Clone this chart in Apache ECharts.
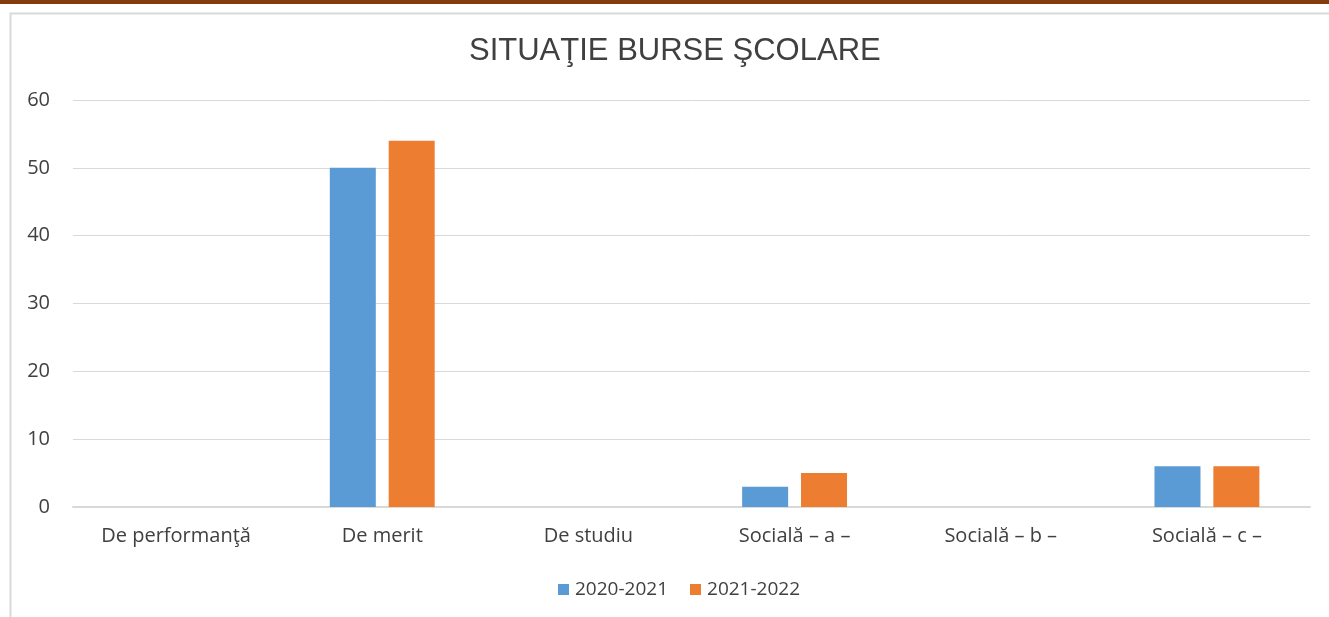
<!DOCTYPE html>
<html>
<head>
<meta charset="utf-8">
<script src="https://cdn.jsdelivr.net/npm/echarts@6/dist/echarts.min.js"></script>
<style>
html,body{margin:0;padding:0;background:#fff;}
#chart{width:1329px;height:617px;}
</style>
</head>
<body>
<div id="chart"></div>
<script>
const categories = ['De performanţă', 'De merit', 'De studiu', 'Socială – a –', 'Socială – b –', 'Socială – c –'];
const seriesNames = ['2020-2021', '2021-2022'];
const values2020 = [0, 50, 0, 3, 0, 6];
const values2021 = [0, 54, 0, 5, 0, 6];
const yTicks = { min: 0, max: 60, interval: 10 };

const chart = echarts.init(document.getElementById('chart'));
const labelFont = '"Open Sans", sans-serif';
chart.setOption({
  animation: false,
  backgroundColor: '#fff',
  graphic: [
    { type: 'rect', shape: { x: 0, y: 0, width: 1329, height: 4 }, style: { fill: '#843C0C' } },
    { type: 'rect', shape: { x: 10.5, y: 13.5, width: 1340, height: 640 }, style: { fill: 'none', stroke: '#d9d9d9', lineWidth: 2 } }
  ],
  title: {
    text: 'SITUAŢIE BURSE ŞCOLARE',
    left: 469,
    top: 36,
    padding: 0,
    textStyle: { fontFamily: '"Liberation Sans", Arial, sans-serif', fontSize: 31, fontWeight: 'normal', color: '#404040' }
  },
  legend: {
    data: seriesNames,
    bottom: 18,
    left: 558,
    padding: 0,
    itemWidth: 11,
    itemHeight: 11,
    itemGap: 22,
    icon: 'rect',
    textStyle: { fontFamily: labelFont, fontSize: 19, color: '#404040', padding: [0, 0, 0, 1] }
  },
  grid: { left: 73, right: 19, top: 100, bottom: 110, containLabel: false },
  xAxis: {
    type: 'category',
    data: categories,
    axisLine: { lineStyle: { color: '#d9d9d9', width: 2 } },
    axisTick: { show: false },
    axisLabel: { fontFamily: labelFont, fontSize: 20, color: '#404040', margin: 19 }
  },
  yAxis: {
    type: 'value',
    min: yTicks.min, max: yTicks.max, interval: yTicks.interval,
    axisLine: { show: false },
    axisTick: { show: false },
    splitLine: { lineStyle: { color: '#d9d9d9', width: 1 } },
    axisLabel: { fontFamily: labelFont, fontSize: 20, color: '#404040', margin: 23 }
  },
  series: [
    { name: seriesNames[0], type: 'bar', data: values2020, barWidth: 46, barGap: '28%', itemStyle: { color: '#5B9BD5' } },
    { name: seriesNames[1], type: 'bar', data: values2021, barWidth: 46, barGap: '28%', itemStyle: { color: '#ED7D31' } }
  ]
});
</script>
</body>
</html>
